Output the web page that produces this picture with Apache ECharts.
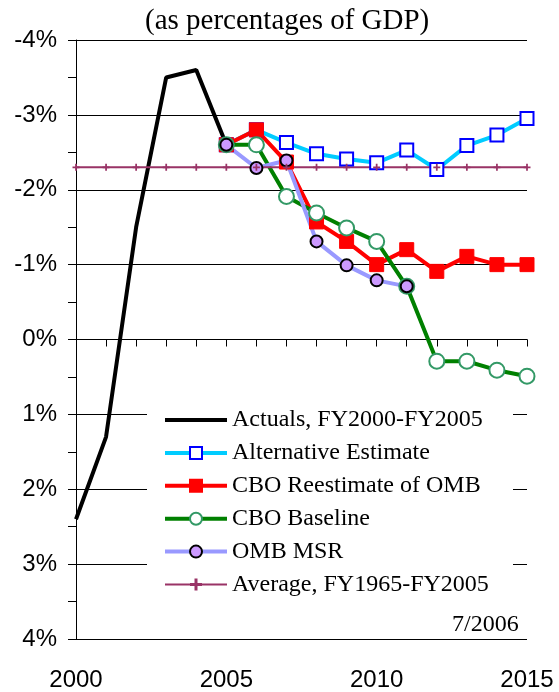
<!DOCTYPE html>
<html><head><meta charset="utf-8">
<script src="https://cdn.jsdelivr.net/npm/echarts@6/dist/echarts.min.js"></script>
<style>html,body{margin:0;padding:0;background:#fff}#c{width:559px;height:692px}</style>
</head><body><div id="c"></div>
<script>
var titleText = "(as percentages of GDP)";
var dateNote = "7/2006";
var xTickLabels = [2000, 2005, 2010, 2015];
var actualYears = [2000, 2001, 2002, 2003, 2004, 2005];
var actuals = [2.4, 1.3, -1.5, -3.5, -3.6, -2.6];
var projYears = [2005, 2006, 2007, 2008, 2009, 2010, 2011, 2012, 2013, 2014, 2015];
var altEstimate = [-2.6, -2.8, -2.63, -2.48, -2.41, -2.36, -2.53, -2.27, -2.59, -2.73, -2.95];
var cboReestimate = [-2.6, -2.8, -2.37, -1.57, -1.31, -1.0, -1.2, -0.91, -1.11, -1.0, -1.0];
var cboBaseline = [-2.6, -2.6, -1.91, -1.69, -1.49, -1.31, -0.71, 0.29, 0.29, 0.41, 0.49];
var ombYears = [2005, 2006, 2007, 2008, 2009, 2010, 2011];
var ombMsr = [-2.6, -2.29, -2.39, -1.31, -0.99, -0.79, -0.71];
var avgYears = [2000, 2001, 2002, 2003, 2004, 2005, 2006, 2007, 2008, 2009, 2010, 2011, 2012, 2013, 2014, 2015];
var avgValue = -2.3;

function pairs(xs, ys) { return xs.map(function (x, i) { return [x, ys[i]]; }); }
var serif = "'Liberation Serif', 'Times New Roman', serif";
var sans = "'Liberation Sans', Arial, sans-serif";
var plus = 'path://M-1,-4H1V-1H4V1H1V4H-1V1H-4V-1H-1Z';
var names = ['Actuals, FY2000-FY2005', 'Alternative Estimate', 'CBO Reestimate of OMB', 'CBO Baseline', 'OMB MSR', 'Average, FY1965-FY2005'];

var chart = echarts.init(document.getElementById('c'), null, {renderer: 'canvas'});
chart.setOption({
  animation: false,
  backgroundColor: '#fff',
  title: {text: titleText, left: 140, top: 2, textStyle: {fontFamily: serif, fontSize: 29, fontWeight: 'normal', color: '#000'}},
  grid: {left: 76, right: 32, top: 40, bottom: 52},
  xAxis: {
    type: 'value', min: 2000, max: 2015, interval: 1,
    axisLine: {lineStyle: {color: '#000', width: 1}},
    axisTick: {show: true, length: 7, lineStyle: {color: '#000'}},
    splitLine: {show: false},
    axisLabel: {
      margin: 29, fontFamily: sans, fontSize: 24, color: '#000',
      formatter: function (v) { return xTickLabels.indexOf(v) >= 0 ? String(v) : ''; }
    }
  },
  yAxis: [{
    type: 'value', inverse: true, min: -4, max: 4, interval: 1,
    axisLine: {show: true, lineStyle: {color: '#000', width: 1}},
    axisTick: {show: true, length: 8, lineStyle: {color: '#000'}},
    minorTick: {show: true, splitNumber: 2, length: 8, lineStyle: {color: '#000'}},
    splitLine: {show: true, lineStyle: {color: '#000', width: 1}},
    axisLabel: {margin: 19, fontFamily: sans, fontSize: 24, color: '#000', formatter: function (v) { return v + '%'; }}
  }, {
    type: 'value', inverse: true, min: -4, max: 4, interval: 1, position: 'left',
    axisLine: {show: false},
    axisTick: {show: true, inside: true, length: 5, lineStyle: {color: '#000'}},
    minorTick: {show: false},
    splitLine: {show: false},
    axisLabel: {show: false}
  }],
  legend: {
    orient: 'vertical', left: 158, top: 408, itemWidth: 62, itemHeight: 15, itemGap: 8.9, padding: [0, 5],
    textStyle: {fontFamily: serif, fontSize: 24, color: '#000'},
    data: [
      {name: names[0], itemStyle: {color: 'rgba(0,0,0,0)', borderColor: 'rgba(0,0,0,0)'}, lineStyle: {width: 4}},
      {name: names[1], lineStyle: {width: 4}},
      {name: names[2], lineStyle: {width: 4}},
      {name: names[3], lineStyle: {width: 4}},
      {name: names[4], lineStyle: {width: 4}},
      {name: names[5], lineStyle: {width: 2}}
    ]
  },
  graphic: [
    {type: 'rect', z: 1, shape: {x: 147, y: 400, width: 366, height: 238}, style: {fill: '#fff'}},
    {type: 'text', z: 5, left: 452, top: 613, style: {text: dateNote, font: "24px 'Liberation Serif'", fill: '#000'}}
  ],
  series: [
    {name: names[0], type: 'line', data: pairs(actualYears, actuals), showSymbol: false, symbol: 'none',
      lineStyle: {color: '#000', width: 4}, itemStyle: {color: '#000'}, z: 3},
    {name: names[1], type: 'line', data: pairs(projYears, altEstimate), symbol: 'rect', symbolSize: 13,
      lineStyle: {color: '#00CCFF', width: 4}, itemStyle: {color: '#fff', borderColor: '#0000FF', borderWidth: 2}, z: 3},
    {name: names[2], type: 'line', data: pairs(projYears, cboReestimate), symbol: 'rect', symbolSize: 14,
      lineStyle: {color: '#FF0000', width: 4}, itemStyle: {color: '#FF0000', borderColor: '#FF0000', borderWidth: 1}, z: 3},
    {name: names[3], type: 'line', data: pairs(projYears, cboBaseline), symbol: 'circle', symbolSize: 15,
      lineStyle: {color: '#008000', width: 4}, itemStyle: {color: '#fff', borderColor: '#339966', borderWidth: 2}, z: 3},
    {name: names[4], type: 'line', data: pairs(ombYears, ombMsr), symbol: 'circle', symbolSize: 12,
      lineStyle: {color: '#9999FF', width: 4}, itemStyle: {color: '#CC99FF', borderColor: '#000', borderWidth: 2}, z: 3},
    {name: names[5], type: 'line', data: avgYears.map(function (y) { return [y, avgValue]; }), symbol: plus, symbolSize: 7,
      lineStyle: {color: '#993366', width: 2}, itemStyle: {color: '#993366'}, z: 3}
  ]
});
</script></body></html>
